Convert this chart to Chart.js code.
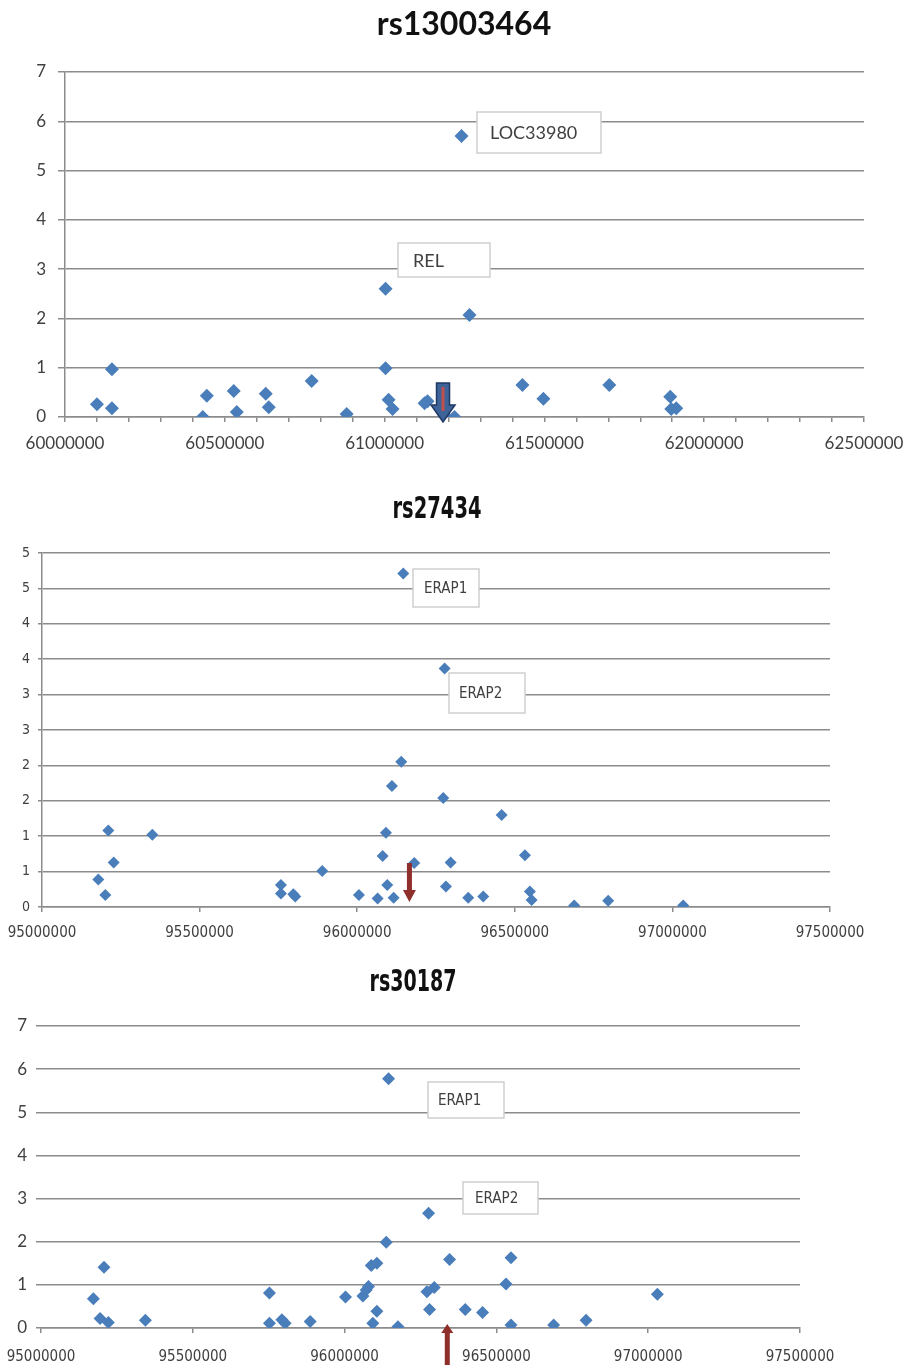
<!DOCTYPE html>
<html>
<head>
<meta charset="utf-8">
<script src="https://cdn.jsdelivr.net/npm/chart.js@4.4.0/dist/chart.umd.min.js"></script>
<style>
  body { margin: 0; background: #fff; }
  #wrap { position: relative; width: 906px; height: 1365px; overflow: hidden; }
  canvas { position: absolute; left: 0; }
</style>
</head>
<body>
<div id="wrap">
  <canvas id="c1" width="906" height="470" style="top:0px"></canvas>
  <canvas id="c2" width="906" height="490" style="top:470px"></canvas>
  <canvas id="c3" width="906" height="405" style="top:960px"></canvas>
</div>
<script>
// rs13003464 : position vs -log10(p)
var pos1 = [60100000, 60146900, 60146900, 60431300, 60443800, 60528100, 60537500, 60628100, 60637500,
            60771900, 60881300, 61003100, 61003100, 61012500, 61025000, 61125000, 61134400, 61187500,
            61218800, 61240600, 61265600, 61431300, 61496900, 61703100, 61893800, 61896900, 61912500];
var val1 = [0.26, 0.97, 0.18, 0, 0.43, 0.53, 0.1, 0.47, 0.2,
            0.73, 0.06, 2.6, 0.99, 0.35, 0.16, 0.28, 0.32, 0.04,
            0, 5.7, 2.07, 0.65, 0.37, 0.65, 0.41, 0.16, 0.18];

// rs27434
var pos2 = [95178600, 95200900, 95210400, 95227400, 95349900, 95758100, 95758100, 95797300, 95803500,
            95889100, 96005500, 96064800, 96080700, 96091200, 96095300, 96110200, 96115500, 96139700,
            96146100, 96181000, 96277300, 96273000, 96296400, 96281500, 96352300, 96399900, 96458200,
            96532100, 96547900, 96553300, 96688500, 96796300, 97034200];
var val2 = [0.39, 0.17, 1.08, 0.63, 1.02, 0.31, 0.19, 0.18, 0.15,
            0.51, 0.17, 0.12, 0.72, 1.05, 0.31, 1.71, 0.13, 2.05,
            4.71, 0.62, 3.37, 1.54, 0.63, 0.29, 0.13, 0.15, 1.3,
            0.73, 0.22, 0.1, 0.02, 0.09, 0.02];

// rs30187
var pos3 = [95172500, 95194500, 95207600, 95221800, 95343800, 95752400, 95752400, 95793400, 95804200,
            95886600, 96003000, 96060300, 96071200, 96078800, 96087700, 96106400, 96093000, 96106400,
            96137100, 96144800, 96175700, 96276500, 96271300, 96295300, 96279900, 96345800, 96397500,
            96454500, 96548100, 96531600, 96548100, 96688600, 96795300, 97030300];
var val3 = [0.68, 0.22, 1.41, 0.13, 0.18, 0.81, 0.11, 0.19, 0.11,
            0.15, 0.72, 0.74, 0.88, 0.96, 1.45, 1.5, 0.11, 0.39,
            1.99, 5.78, 0.03, 2.66, 0.84, 0.94, 0.43, 1.59, 0.43,
            0.36, 1.63, 1.02, 0.07, 0.07, 0.18, 0.78];

var titles = ['rs13003464', 'rs27434', 'rs30187'];

var gridGray = '#8c8c8c';
var textGray = '#404040';
var narrow = "'Liberation Sans Narrow', 'DejaVu Sans Condensed', Lato, sans-serif";

function points(xs, ys) {
  return xs.map(function (x, i) { return { x: x, y: ys[i] }; });
}

// title, gene label boxes and marker arrows, placed with the chart's own scales
var notesPlugin = {
  id: 'notes',
  afterDatasetsDraw: function (chart, args, opts) {
    var ctx = chart.ctx, xs = chart.scales.x, ys = chart.scales.y;
    var y0 = ys.getPixelForValue(0);
    ctx.save();

    ctx.fillStyle = '#111';
    ctx.font = opts.titleFont;
    ctx.textAlign = 'center';
    ctx.textBaseline = 'middle';
    if (opts.titleW) ctx.fillText(opts.title, opts.titleX, opts.titleY, opts.titleW);
    else ctx.fillText(opts.title, opts.titleX, opts.titleY);
    ctx.textAlign = 'left';

    (opts.boxes || []).forEach(function (b) {
      var left = Math.round(xs.getPixelForValue(b.x)), top = Math.round(ys.getPixelForValue(b.y));
      ctx.fillStyle = '#fff';
      ctx.fillRect(left, top, b.w, b.h);
      ctx.strokeStyle = '#cfcfcf';
      ctx.lineWidth = 1.5;
      ctx.strokeRect(left, top, b.w, b.h);
      ctx.fillStyle = textGray;
      ctx.font = opts.font;
      ctx.textBaseline = 'middle';
      ctx.fillText(b.text, left + b.pad, top + b.h / 2 + 1);
    });

    (opts.arrows || []).forEach(function (a) {
      var cx = xs.getPixelForValue(a.x);
      ctx.beginPath();
      ctx.moveTo(cx - a.sw, y0 + a.start);
      ctx.lineTo(cx + a.sw, y0 + a.start);
      ctx.lineTo(cx + a.sw, y0 + a.head);
      ctx.lineTo(cx + a.hw, y0 + a.head);
      ctx.lineTo(cx, y0 + a.tip);
      ctx.lineTo(cx - a.hw, y0 + a.head);
      ctx.lineTo(cx - a.sw, y0 + a.head);
      ctx.closePath();
      ctx.fillStyle = a.fill;
      ctx.fill();
      if (a.edge) {
        ctx.strokeStyle = a.edge;
        ctx.lineWidth = 1.5;
        ctx.stroke();
      }
      if (a.stripe) {
        ctx.fillStyle = a.stripe;
        ctx.fillRect(cx - 1.5, y0 + a.start + 4, 3, a.head - a.start + 2);
      }
    });
    ctx.restore();
  }
};

function makeChart(id, cfg) {
  return new Chart(document.getElementById(id), {
    type: 'scatter',
    data: {
      datasets: [{
        data: cfg.data,
        pointStyle: 'rectRot',
        pointRadius: cfg.radius,
        pointHoverRadius: cfg.radius,
        backgroundColor: '#4a7ebb',
        borderColor: '#4a7ebb',
        borderWidth: 0
      }]
    },
    options: {
      responsive: false,
      animation: false,
      devicePixelRatio: 1,
      layout: { padding: cfg.padding },
      plugins: {
        legend: { display: false },
        tooltip: { enabled: false },
        title: { display: false },
        notes: cfg.notes
      },
      scales: {
        x: {
          type: 'linear',
          min: cfg.xMin,
          max: cfg.xMax,
          border: { display: true, color: gridGray, width: 1.5 },
          grid: { drawOnChartArea: false, drawTicks: true, tickLength: 5, color: gridGray, lineWidth: 1.5 },
          ticks: {
            stepSize: cfg.xStep,
            autoSkip: false,
            maxRotation: 0,
            padding: cfg.xPad,
            color: textGray,
            font: cfg.xFont,
            callback: function (v) { return v % 500000 === 0 ? String(v) : ''; }
          },
          afterFit: function (s) { s.height = cfg.xHeight; s.paddingLeft = 0; s.paddingRight = 0; }
        },
        y: {
          min: 0,
          max: cfg.yMax,
          border: { display: cfg.yBorder, color: gridGray, width: 1.5 },
          grid: { color: gridGray, lineWidth: 1.5, tickLength: cfg.yTick },
          ticks: {
            stepSize: cfg.yStep,
            padding: cfg.yPad,
            color: textGray,
            font: cfg.yFont,
            callback: function (v) { return String(Math.round(v)); }
          },
          afterFit: function (s) { s.width = cfg.yWidth; s.paddingTop = 0; s.paddingBottom = 0; }
        }
      }
    },
    plugins: [notesPlugin]
  });
}

makeChart('c1', {
  data: points(pos1, val1),
  radius: 7,
  padding: { left: 0, right: 42, top: 72, bottom: 0 },
  xMin: 60000000, xMax: 62500000, xStep: 100000, xPad: 11, xHeight: 53,
  xFont: { family: 'Lato', size: 17 },
  yMax: 7, yStep: 1, yPad: 12, yTick: 7, yWidth: 65, yBorder: true,
  yFont: { family: 'Lato', size: 17 },
  notes: {
    title: titles[0], titleX: 464, titleY: 25, titleFont: 'bold 32px Lato',
    font: '18px Lato',
    boxes: [
      { text: 'LOC33980', x: 61290600, y: 6.19, w: 124, h: 41, pad: 13 },
      { text: 'REL', x: 61040600, y: 3.53, w: 92, h: 34, pad: 15 }
    ],
    arrows: [
      { x: 61182800, start: -34, head: -12, tip: 5, sw: 6.5, hw: 12, fill: '#3d6398', edge: '#1f3864', stripe: '#c0504d' }
    ]
  }
});

makeChart('c2', {
  data: points(pos2, val2),
  radius: 6,
  padding: { left: 0, right: 76, top: 83, bottom: 0 },
  xMin: 95000000, xMax: 97500000, xStep: 500000, xPad: 12, xHeight: 53,
  xFont: { family: narrow, size: 15 },
  yMax: 5, yStep: 0.5, yPad: 8, yTick: 4, yWidth: 42, yBorder: true,
  yFont: { family: narrow, size: 14 },
  notes: {
    title: titles[1], titleX: 437, titleY: 40, titleW: 89,
    titleFont: "bold 30px 'Liberation Sans Narrow', 'DejaVu Sans Condensed', sans-serif",
    font: "15px 'Liberation Sans Narrow', 'DejaVu Sans Condensed', sans-serif",
    boxes: [
      { text: 'ERAP1', x: 96176800, y: 4.77, w: 66, h: 38, pad: 11 },
      { text: 'ERAP2', x: 96291000, y: 3.31, w: 76, h: 40, pad: 10 }
    ],
    arrows: [
      { x: 96165700, start: -44, head: -17, tip: -5, sw: 2.5, hw: 6.5, fill: '#8e2f2c' }
    ]
  }
});

makeChart('c3', {
  data: points(pos3, val3),
  radius: 6.5,
  padding: { left: 0, right: 106, top: 66, bottom: 0 },
  xMin: 95000000, xMax: 97500000, xStep: 500000, xPad: 15, xHeight: 37,
  xFont: { family: narrow, size: 15 },
  yMax: 7, yStep: 1, yPad: 9, yTick: 5, yWidth: 41, yBorder: false,
  yFont: { family: 'Lato', size: 17 },
  notes: {
    title: titles[2], titleX: 413, titleY: 23, titleW: 87,
    titleFont: "bold 30px 'Liberation Sans Narrow', 'DejaVu Sans Condensed', sans-serif",
    font: "15px 'Liberation Sans Narrow', 'DejaVu Sans Condensed', sans-serif",
    boxes: [
      { text: 'ERAP1', x: 96275600, y: 5.71, w: 76, h: 36, pad: 10 },
      { text: 'ERAP2', x: 96390900, y: 3.39, w: 75, h: 32, pad: 12 }
    ],
    arrows: [
      { x: 96338200, start: 37, head: 5, tip: -4, sw: 2.5, hw: 6, fill: '#8e2f2c' }
    ]
  }
});
</script>
</body>
</html>
